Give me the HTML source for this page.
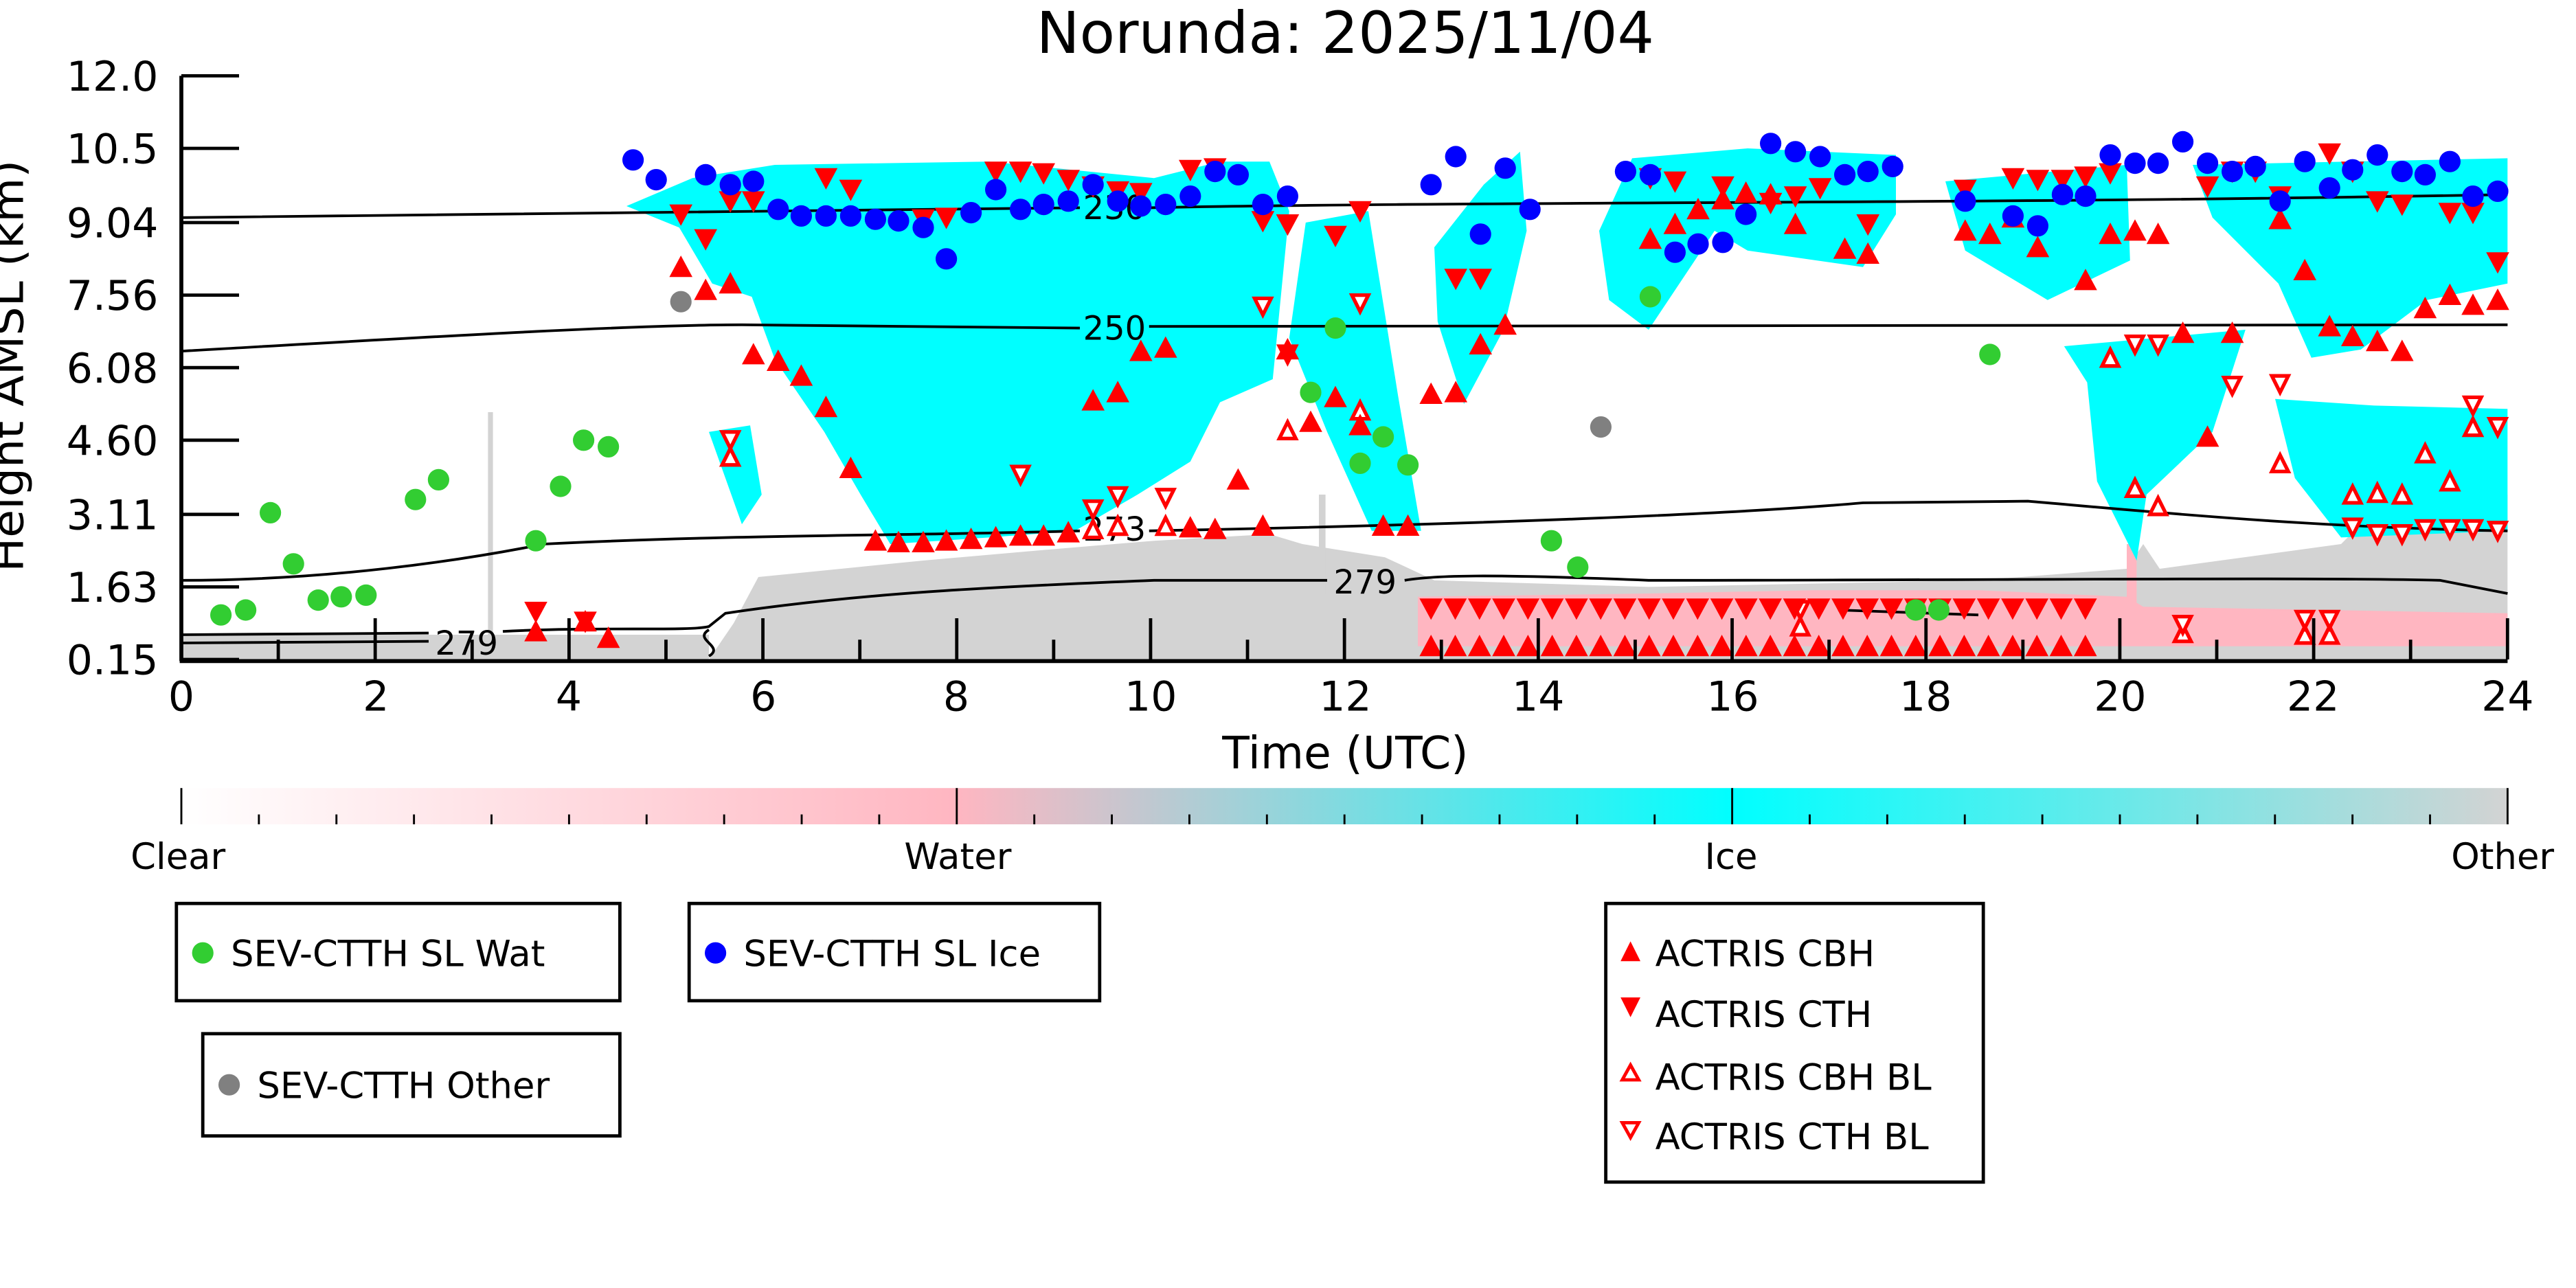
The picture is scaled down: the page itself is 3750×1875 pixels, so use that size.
<!DOCTYPE html>
<html><head><meta charset="utf-8"><style>
html,body{margin:0;padding:0;background:#fff;}
svg{display:block;}
text{font-family:"DejaVu Sans","Liberation Sans",sans-serif;fill:#000;}
</style></head><body>
<svg id="s" width="3750" height="1875" viewBox="0 0 1562.5 781.25" xmlns="http://www.w3.org/2000/svg">
<defs>
<linearGradient id="cb" x1="0" x2="1" y1="0" y2="0">
<stop offset="0" stop-color="#ffffff"/>
<stop offset="0.333" stop-color="#ffb6c1"/>
<stop offset="0.667" stop-color="#00ffff"/>
<stop offset="1" stop-color="#d3d3d3"/>
</linearGradient>
<clipPath id="ax"><rect x="110" y="46" width="1411" height="354"/></clipPath>
</defs>
<rect width="1562.5" height="781.25" fill="#fff"/>
<g clip-path="url(#ax)">
<!-- grey -->
<polygon fill="#d3d3d3" points="430,400 445,378 460,350 520,344 560,340 640,333 700,328 770,324 790,330 840,338 870,352 1000,356 1200,352 1290,345 1300,330 1310,345 1420,330 1440,310 1460,320 1521,300 1521,400"/>
<rect x="110" y="385" width="320" height="15" fill="#d3d3d3"/>
<rect x="296" y="250" width="3" height="135" fill="#d3d3d3"/>
<rect x="800" y="300" width="4" height="60" fill="#d3d3d3"/>
<!-- pink -->
<polygon fill="#ffb6c1" points="860,362 1000,360 1100,358 1200,358 1290,362 1300,368 1521,372 1521,392 860,392"/>
<rect x="1290" y="330" width="6" height="40" fill="#ffb6c1"/>
<!-- cyan -->
<g fill="#00ffff">
<polygon points="380,125 420,108 470,100 600,98 700,108 740,98 770,98 782,128 772,230 740,244 722,280 690,300 652,322 600,326 540,330 522,300 500,262 470,218 456,180 432,172 412,138"/>
<polygon points="430,262 455,258 462,300 450,318 440,290"/>
<polygon points="792,135 830,128 848,240 862,322 832,322 805,262 782,205"/>
<polygon points="870,150 900,112 922,92 926,140 912,200 888,245 872,195"/>
<polygon points="970,140 990,96 1060,90 1150,94 1150,130 1130,162 1060,152 1040,140 1000,200 976,182"/>
<polygon points="1180,110 1290,100 1292,158 1242,182 1192,152"/>
<polygon points="1252,210 1362,200 1342,262 1302,300 1296,340 1272,292 1266,232"/>
<polygon points="1330,100 1521,96 1521,172 1472,182 1432,212 1402,217 1382,172 1342,132"/>
<polygon points="1380,242 1440,246 1521,248 1521,322 1420,326 1392,290"/>
</g>
</g>
<!-- contours -->
<g fill="none" stroke="#000" stroke-width="1.6">
<path d="M110,132 C400,130 600,126 655,126 M697,126 C900,122 1200,124 1521,118"/>
<path d="M110,213 C250,205 380,197 450,197 L655,199 M697,198 L1521,197"/>
<path d="M110,352 C200,352 280,340 330,330 C450,324 560,325 655,322 M697,322 C900,318 1050,312 1130,305 L1230,304 C1300,310 1400,320 1521,322"/>
<path d="M110,385 L260,384 M305,383 C360,380 420,383 430,380 L440,372 C520,360 600,356 700,352 L805,352 M852,352 C870,349 900,348 1000,352 C1200,352 1400,350 1480,352 L1521,360"/>
<path d="M110,390 L260,389"/>
<path d="M430,382 C420,388 440,392 430,398"/>
<path d="M1115,370 L1200,373"/>
</g>
<g font-size="20">
<text x="676" y="133" text-anchor="middle">230</text>
<text x="676" y="206" text-anchor="middle">250</text>
<text x="676" y="328" text-anchor="middle">273</text>
<text x="828" y="360" text-anchor="middle">279</text>
<text x="283" y="397" text-anchor="middle">279</text>
</g>
<g id="mk"></g>
<!-- axes -->
<g stroke="#000" stroke-width="2.4" fill="none">
<line x1="110" y1="46" x2="110" y2="401"/>
<line x1="109" y1="401" x2="1521" y2="401"/>
</g>
<g id="ticks" stroke="#000" stroke-width="2"></g>
<g font-size="25" text-anchor="end">
<text x="96" y="55">12.0</text><text x="96" y="99">10.5</text><text x="96" y="144">9.04</text>
<text x="96" y="188">7.56</text><text x="96" y="232">6.08</text><text x="96" y="276">4.60</text>
<text x="96" y="321">3.11</text><text x="96" y="365">1.63</text><text x="96" y="409">0.15</text>
</g>
<g font-size="25" text-anchor="middle">
<text x="110" y="431">0</text><text x="228" y="431">2</text><text x="345" y="431">4</text><text x="463" y="431">6</text>
<text x="580" y="431">8</text><text x="698" y="431">10</text><text x="816" y="431">12</text><text x="933" y="431">14</text>
<text x="1051" y="431">16</text><text x="1168" y="431">18</text><text x="1286" y="431">20</text><text x="1403" y="431">22</text><text x="1521" y="431">24</text>
</g>
<text x="816" y="466" font-size="27" text-anchor="middle">Time (UTC)</text>
<text x="816" y="32" font-size="35" text-anchor="middle">Norunda: 2025/11/04</text>
<text transform="translate(14,222) rotate(-90)" font-size="26" text-anchor="middle" textLength="250" lengthAdjust="spacingAndGlyphs">Height AMSL (km)</text>
<!-- colorbar -->
<rect x="110" y="478" width="1411" height="22" fill="url(#cb)"/>
<g id="cbt" stroke="#000" stroke-width="1.2"></g>
<g font-size="22" text-anchor="middle">
<text x="108" y="527">Clear</text><text x="581" y="527">Water</text><text x="1050" y="527">Ice</text><text x="1518" y="527">Other</text>
</g>
<!-- legends -->
<g fill="none" stroke="#000" stroke-width="2">
<rect x="107" y="548" width="269" height="59"/>
<rect x="418" y="548" width="249" height="59"/>
<rect x="123" y="627" width="253" height="62"/>
<rect x="974" y="548" width="229" height="169"/>
</g>
<g font-size="22">
<circle cx="123" cy="578" r="6.5" fill="#32cd32"/><text x="140" y="586">SEV-CTTH SL Wat</text>
<circle cx="434" cy="578" r="6.5" fill="#0000ff"/><text x="451" y="586">SEV-CTTH SL Ice</text>
<circle cx="139" cy="658" r="6.5" fill="#808080"/><text x="156" y="666">SEV-CTTH Other</text>
<polygon points="989,571 983,583 995,583" fill="red"/><text x="1004" y="586">ACTRIS CBH</text>
<polygon points="983,605 995,605 989,617" fill="red"/><text x="1004" y="623">ACTRIS CTH</text>
<polygon points="989,646 984,655 994,655" fill="none" stroke="red" stroke-width="2"/><text x="1004" y="661">ACTRIS CBH BL</text>
<polygon points="984,681 994,681 989,690" fill="none" stroke="red" stroke-width="2"/><text x="1004" y="697">ACTRIS CTH BL</text>
</g>
</svg>
<script>
var NS="http://www.w3.org/2000/svg",mk=document.getElementById('mk');
function el(t,a,p){var e=document.createElementNS(NS,t);for(var k in a)e.setAttribute(k,a[k]);(p||mk).appendChild(e);return e;}
function circ(arr,c){for(var i=0;i<arr.length;i+=2)el('circle',{cx:arr[i],cy:arr[i+1],r:6.5,fill:c});}
function tri(arr,up,hollow){for(var i=0;i<arr.length;i+=2){var x=arr[i],y=arr[i+1],p;
 if(hollow){p=up?[x,y-6,x-5,y+4,x+5,y+4]:[x-5,y-4,x+5,y-4,x,y+6];el('polygon',{points:p.join(','),fill:'#fff',stroke:'red','stroke-width':2.2});}
 else{p=up?[x,y-8,x-7,y+5,x+7,y+5]:[x-7,y-5,x+7,y-5,x,y+8];el('polygon',{points:p.join(','),fill:'red'});}}}
var bot=[],botH=[],topF=[],topH=[];
for(var x=868;x<=1265;x+=14.7){bot.push(x,393);topF.push(x,368);}
var CBH=[413,163,428,177,443,173,457,216,472,220,486,229,501,248,516,285,531,329,545,330,560,330,574,329,589,328,604,327,619,326,633,326,648,324,663,244,678,239,692,214,707,212,722,321,737,322,751,292,766,320,781,213,795,257,810,242,825,259,839,320,854,320,868,240,883,239,898,210,913,198,1001,146,1016,137,1030,128,1045,122,1059,118,1074,119,1089,137,1119,152,1133,155,1192,141,1207,143,1221,133,1236,151,1265,171,1280,143,1295,141,1309,143,1324,203,1339,266,1354,203,1383,134,1398,165,1413,199,1427,205,1442,208,1457,214,1471,188,1486,180,1500,186,1515,183,325,384,355,378,369,388];
var CTH=[413,129,428,144,443,121,457,121,501,107,516,114,560,132,574,131,604,103,619,103,633,104,648,108,663,112,678,115,692,116,722,102,737,101,766,133,781,135,810,142,825,127,883,168,898,168,1001,107,1016,109,1045,112,1074,122,1089,118,1104,113,1133,135,1192,114,1221,107,1236,108,1251,108,1265,106,1280,104,1339,112,1354,103,1368,103,1383,118,1413,92,1427,103,1442,121,1457,123,1486,128,1500,128,1515,158,325,370,355,376];
var CBHb=[1280,218,1295,297,1309,308,1383,282,1427,301,1442,300,1457,301,1471,276,1486,293,1500,260,825,250,781,262,663,322,678,320,707,320,443,278,1092,381,1324,385,1398,386,1413,386];
var CTHb=[766,185,825,183,781,214,619,287,663,308,678,300,707,301,1295,208,1309,208,1354,233,1383,232,1427,319,1442,323,1457,323,1471,320,1486,320,1500,320,1515,321,1515,258,1500,245,443,266,1092,369,1324,378,1398,375,1413,375];
tri(CBHb,true,true);tri(CTHb,false,true);
tri(bot,true,false);tri(topF,false,false);tri(CBH,true,false);tri(CTH,false,false);
circ([134,373,149,370,164,311,178,342,193,364,207,362,222,361,252,303,266,291,325,328,340,295,354,267,369,271,810,199,795,238,825,281,839,265,854,282,941,328,957,344,1001,180,1207,215,1162,370,1176,370],'#32cd32');
circ([413,183,971,259],'#808080');
circ([384,97,398,109,428,106,443,112,457,110,472,127,486,131,501,131,516,131,531,133,545,134,560,138,574,157,589,129,604,115,619,127,633,124,648,122,663,112,678,122,692,125,707,124,722,119,737,104,751,106,766,124,781,119,868,112,883,95,898,142,913,102,928,127,986,104,1001,106,1016,153,1030,148,1045,147,1059,130,1074,87,1089,92,1104,95,1119,106,1133,104,1148,101,1192,122,1221,131,1236,137,1251,118,1265,119,1280,94,1295,99,1309,99,1324,86,1339,99,1354,104,1368,101,1383,122,1398,98,1413,114,1427,103,1442,94,1457,104,1471,106,1486,98,1500,119,1515,116],'#0000ff');
var tk=document.getElementById('ticks');
[46,90,135,179,223,267,312,356,400].forEach(function(y){el('line',{x1:110,y1:y,x2:145,y2:y},tk);});
for(var h=0;h<=24;h++){var x=110+h*58.79;el('line',{x1:x,y1:400,x2:x,y2:(h%2==0?375:388)},tk);}
var cbt=document.getElementById('cbt');
for(var i=0;i<=30;i++){var x=110+i*1411/30;el('line',{x1:x,y1:500,x2:x,y2:(i%10==0?478:494)},cbt);}
</script>
</body></html>
